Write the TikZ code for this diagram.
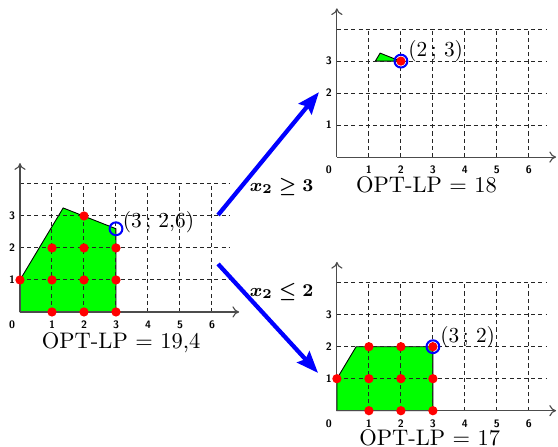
\documentclass[tikz,border=0pt]{standalone}
\usepackage{amsmath,amssymb}
\usepackage{xcolor}
\usepackage{tikz}
\usetikzlibrary{positioning,arrows.meta,calc}
\definecolor{lpgreen}{RGB}{0,255,0}
\definecolor{lpred}{RGB}{255,0,0}
\definecolor{lpblue}{RGB}{0,0,255}
\tikzset{
  gridline/.style={line width=0.45pt, dash pattern=on 1.8pt off 1.4pt, draw=black!85},
  axisline/.style={-{To[length=3pt,width=5pt]}, line width=0.5pt, draw=black!70},
  ticklbl/.style={inner sep=0pt, font=\fontsize{4.8}{5}\selectfont\bfseries\sffamily},
  region/.style={fill=lpgreen, draw=black, line width=0.4pt},
  intpt/.style={circle, fill=lpred, inner sep=0pt, minimum size=1.45mm},
  optpt/.style={circle, draw=lpblue, line width=0.9pt, inner sep=0pt, minimum size=2mm},
  ptlabel/.style={anchor=west, inner sep=0pt, font=\fontsize{9.5}{10}\selectfont},
  optval/.style={inner sep=0pt, font=\fontsize{10}{11}\selectfont},
  branch/.style={-{Stealth[length=3.4mm,width=2.6mm,inset=0.5mm]}, line width=1.9pt, draw=lpblue},
  cutlbl/.style={inner sep=0pt, font=\fontsize{8.5}{10}\selectfont\boldmath},
}
\newcommand{\lpaxes}{%
  \foreach \i in {1,...,6} \draw[gridline] (\i,0) -- (\i,4);
  \foreach \j in {1,...,4} \draw[gridline] (0,\j) -- (6.55,\j);
  \draw[axisline] (0,0) -- (6.85,0);
  \draw[axisline] (0,0) -- (0,4.65);
  \node[ticklbl] (x0) at (-0.25,-0.4) {0};
  \foreach \i in {1,...,6} \node[ticklbl] (x\i) at (\i,-0.4) {\i};
  \foreach \j in {1,2,3} \node[ticklbl] (y\j) at (-0.25,\j) {\j};
}

\begin{document}
\begin{tikzpicture}[x=0.5cm, y=0.5cm]
  \useasboundingbox (0,0) rectangle (17.44,13.97);

  % LP relaxation
  \begin{scope}[shift={(0.625,4.22)}, name prefix=L-]
    \filldraw[region] (0,0) -- (0,1) -- (1.35,3.25) -- (3,2.6) -- (3,0) -- cycle;
    \lpaxes
    \foreach \x/\y [count=\k] in {0/1,1/0,2/0,3/0,1/1,2/1,3/1,1/2,2/2,3/2,2/3}
      \node[intpt] (d\k) at (\x,\y) {};
    \node[optpt] (opt) at (3,2.6) {};
    \node[ptlabel] (optlbl) at (3.2,2.8) {(3\,;\,\,2,6)};
    \node[optval] (val) at (3.16,-0.97) {OPT-LP $=$ 19,4};
    \coordinate (up) at (6.19,3.03);
    \coordinate (down) at (6.19,1.5);
  \end{scope}

  % branch x2 >= 3
  \begin{scope}[shift={(10.53,9.06)}, name prefix=U-]
    \filldraw[region] (1.2,3) -- (1.35,3.25) -- (1.98,3) -- cycle;
    \lpaxes
    \node[intpt] (d1) at (2,3) {};
    \node[optpt] (opt) at (2,3) {};
    \node[ptlabel] (optlbl) at (2.22,3.3) {(2\,;\,\,3)};
    \node[optval] (val) at (2.8,-0.88) {OPT-LP $=$ 18};
    \coordinate (in) at (-0.56,2.03);
  \end{scope}

  % branch x2 <= 2
  \begin{scope}[shift={(10.53,1.134)}, name prefix=D-]
    \filldraw[region] (0,0) -- (0,1) -- (0.6,2) -- (3,2) -- (3,0) -- cycle;
    \lpaxes
    \foreach \x/\y [count=\k] in {0/1,1/0,2/0,3/0,1/1,2/1,3/1,1/2,2/2,3/2}
      \node[intpt] (d\k) at (\x,\y) {};
    \node[optpt] (opt) at (3,2) {};
    \node[ptlabel] (optlbl) at (3.22,2.3) {(3\,;\,\,2)};
    \node[optval] (val) at (2.9,-0.86) {OPT-LP $=$ 17};
    \coordinate (in) at (-0.59,1.18);
  \end{scope}

  \draw[branch] (L-up) -- (U-in);
  \draw[branch] (L-down) -- (D-in);
  \node[cutlbl] (geq) at (8.8,8.13) {$x_2 \geq 3$};
  \node[cutlbl] (leq) at (8.8,4.84) {$x_2 \leq 2$};
\end{tikzpicture}
\end{document}
